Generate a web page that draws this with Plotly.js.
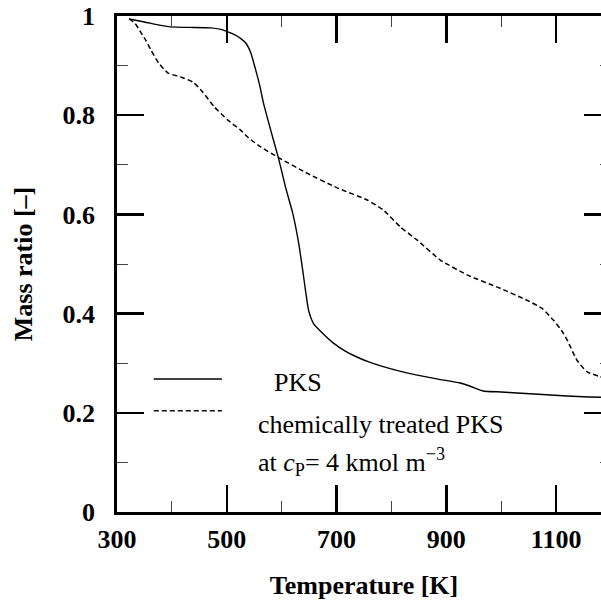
<!DOCTYPE html>
<html>
<head>
<meta charset="utf-8">
<script src="https://cdn.plot.ly/plotly-3.0.1.min.js"></script>
<style>
html,body{margin:0;padding:0;overflow:hidden;background:#fff;}
#chart{width:620px;height:600px;}
</style>
</head>
<body>
<div id="chart"></div>
<script>
// Temperature [K] and mass ratio [-]
const pksT = [322, 350, 375, 398, 430, 471, 489, 502, 515, 525, 535, 544, 553, 560, 567, 580, 595, 607, 620, 631, 638, 644, 649, 658, 675, 695, 715, 738, 760, 785, 815, 847, 885, 925, 945, 967, 1000, 1029, 1075, 1120, 1160, 1200];
const pksM = [0.994, 0.988, 0.982, 0.978, 0.977, 0.976, 0.973, 0.968, 0.962, 0.955, 0.945, 0.925, 0.89, 0.86, 0.824, 0.77, 0.71, 0.655, 0.603, 0.542, 0.49, 0.442, 0.407, 0.38, 0.36, 0.34, 0.325, 0.312, 0.302, 0.293, 0.284, 0.276, 0.268, 0.260, 0.253, 0.244, 0.242, 0.240, 0.237, 0.234, 0.232, 0.231];

const chemT = [322, 333, 344, 353, 362, 376, 393, 416, 438, 456, 477, 502, 525, 540, 562, 595, 643, 702, 756, 785, 816, 847, 889, 938, 998, 1047, 1075, 1095, 1110, 1120, 1138, 1156, 1180, 1200];
const chemM = [0.994, 0.985, 0.966, 0.95, 0.931, 0.905, 0.885, 0.877, 0.867, 0.847, 0.817, 0.79, 0.77, 0.754, 0.736, 0.714, 0.685, 0.653, 0.629, 0.609, 0.575, 0.548, 0.508, 0.478, 0.451, 0.427, 0.41, 0.387, 0.366, 0.347, 0.306, 0.283, 0.273, 0.268];

const seriesNames = ['PKS', 'chemically treated PKS'];
const noteText = 'at <i>c</i><sub>P</sub>= 4 kmol m<sup>\u22123</sup>';
const xTitle = 'Temperature [K]';
const yTitle = 'Mass ratio [\u2013]';

const FONT = 'Liberation Serif';

const traces = [
  {x: pksT, y: pksM, mode: 'lines', name: seriesNames[0],
   line: {color: '#000', width: 1.4, shape: 'spline', smoothing: 0.5}},
  {x: chemT, y: chemM, mode: 'lines', name: seriesNames[1],
   line: {color: '#000', width: 1.5, dash: '5px,3px', shape: 'spline', smoothing: 0.5}}
];

// hand-drawn legend (line samples + labels)
const legX0 = 367, legX1 = 491;
const legY = [0.268, 0.204];
const shapes = [
  {type: 'line', xref: 'x', yref: 'y', x0: legX0, x1: legX1, y0: legY[0], y1: legY[0], line: {color: '#000', width: 1.4}},
  {type: 'line', xref: 'x', yref: 'y', x0: legX0, x1: legX1, y0: legY[1], y1: legY[1], line: {color: '#000', width: 1.5, dash: '5px,3px'}}
];
const annotations = [
  {xref: 'x', yref: 'y', x: 582, y: 0.262, xanchor: 'left', yanchor: 'middle', showarrow: false, text: seriesNames[0], font: {family: FONT, size: 26, color: '#000'}},
  {xref: 'x', yref: 'y', x: 553, y: 0.176, xanchor: 'left', yanchor: 'middle', showarrow: false, text: seriesNames[1], font: {family: FONT, size: 26, color: '#000'}},
  {xref: 'x', yref: 'y', x: 553, y: 0.101, xanchor: 'left', yanchor: 'middle', showarrow: false, text: noteText, font: {family: FONT, size: 26, color: '#000'}}
];

const axisCommon = {
  showline: true, linecolor: '#000', linewidth: 2.7, mirror: 'ticks',
  ticks: 'inside', ticklen: 27, tickwidth: 2.5, tickcolor: '#000',
  showgrid: false, zeroline: false,
  tickfont: {family: FONT, size: 26, color: '#000', weight: 'bold'},
};

const layout = {
  width: 620, height: 600,
  margin: {l: 117, r: 9, t: 16, b: 88},
  paper_bgcolor: '#fff', plot_bgcolor: '#fff',
  showlegend: false,
  font: {family: FONT, color: '#000'},
  xaxis: Object.assign({}, axisCommon, {
    range: [300, 1200], tick0: 300, dtick: 200, ticklabelstandoff: 2,
    minor: {ticks: 'inside', ticklen: 11, tickwidth: 1, tickcolor: '#444', dtick: 100, tick0: 300, showgrid: false},
    title: {text: xTitle, font: {family: FONT, size: 26, color: '#000', weight: 'bold'}, standoff: 24}
  }),
  yaxis: Object.assign({}, axisCommon, {
    range: [0, 1], tick0: 0, dtick: 0.2, ticklabelstandoff: 14,
    minor: {ticks: 'inside', ticklen: 11, tickwidth: 1, tickcolor: '#444', dtick: 0.1, showgrid: false},
    title: {text: yTitle, font: {family: FONT, size: 26, color: '#000', weight: 'bold'}, standoff: 23}
  }),
  shapes: shapes,
  annotations: annotations
};

Plotly.newPlot('chart', traces, layout, {displayModeBar: false, staticPlot: true});
</script>
</body>
</html>
